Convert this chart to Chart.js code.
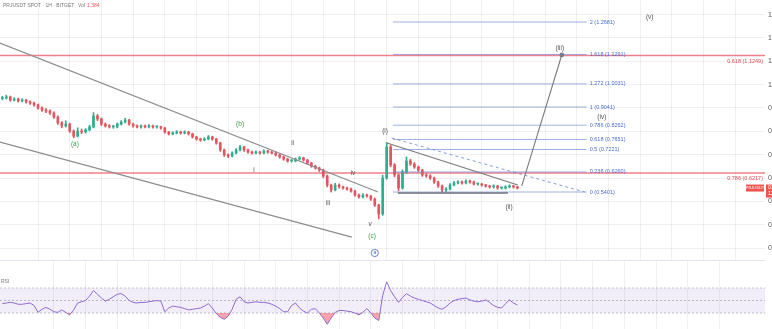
<!DOCTYPE html>
<html>
<head>
<meta charset="utf-8">
<script src="https://cdn.jsdelivr.net/npm/chart.js@4.4.1/dist/chart.umd.min.js"></script>
<style>
html, body { margin: 0; padding: 0; background: #fff; overflow: hidden; width: 772px; height: 329px; }
#wrap { position: relative; width: 800px; height: 329px; }
#main { position: absolute; left: 0; top: 0; }
#rsi { position: absolute; left: 0; top: 260px; }
</style>
</head>
<body>
<div id="wrap">
  <canvas id="main" width="800" height="260"></canvas>
  <canvas id="rsi" width="800" height="69"></canvas>
</div>
<script>
// PRJUSDT 1h candles
var opens = [0.940,0.943,0.947,0.934,0.938,0.930,0.934,0.926,0.921,0.913,
  0.900,0.891,0.887,0.878,0.861,0.836,0.823,0.831,0.801,0.780,
  0.801,0.797,0.806,0.819,0.866,0.853,0.831,0.823,0.819,0.819,
  0.831,0.840,0.848,0.831,0.823,0.819,0.823,0.819,0.823,0.819,
  0.819,0.814,0.797,0.789,0.793,0.797,0.793,0.797,0.789,0.776,
  0.767,0.763,0.767,0.776,0.767,0.750,0.720,0.699,0.694,0.707,
  0.720,0.733,0.720,0.711,0.707,0.711,0.707,0.716,0.711,0.707,
  0.699,0.690,0.681,0.673,0.673,0.681,0.686,0.677,0.664,0.651,
  0.643,0.634,0.609,0.570,0.549,0.570,0.562,0.557,0.553,0.544,
  0.527,0.519,0.527,0.523,0.510,0.484,0.446,0.600,0.733,0.656,
  0.613,0.557,0.626,0.673,0.660,0.647,0.634,0.613,0.609,0.600,
  0.583,0.566,0.549,0.553,0.570,0.579,0.583,0.579,0.587,0.583,
  0.574,0.574,0.570,0.566,0.562,0.566,0.557,0.557,0.562,0.566,
  0.562];
var closes = [0.943,0.947,0.934,0.938,0.930,0.934,0.926,0.921,0.913,0.900,
  0.891,0.887,0.878,0.861,0.836,0.823,0.831,0.801,0.780,0.801,
  0.797,0.806,0.819,0.866,0.853,0.831,0.823,0.819,0.819,0.831,
  0.840,0.848,0.831,0.823,0.819,0.823,0.819,0.823,0.819,0.819,
  0.814,0.797,0.789,0.793,0.797,0.793,0.797,0.789,0.776,0.767,
  0.763,0.767,0.776,0.767,0.750,0.720,0.699,0.694,0.707,0.720,
  0.733,0.720,0.711,0.707,0.711,0.707,0.716,0.711,0.707,0.699,
  0.690,0.681,0.673,0.673,0.681,0.686,0.677,0.664,0.651,0.643,
  0.634,0.609,0.570,0.549,0.570,0.562,0.557,0.553,0.544,0.527,
  0.519,0.527,0.523,0.510,0.484,0.446,0.600,0.733,0.656,0.613,
  0.557,0.626,0.673,0.660,0.647,0.634,0.613,0.609,0.600,0.583,
  0.566,0.549,0.553,0.570,0.579,0.583,0.579,0.587,0.583,0.574,
  0.574,0.570,0.566,0.562,0.566,0.557,0.557,0.562,0.566,0.562,
  0.557];
var highs = [0.950,0.955,0.951,0.944,0.942,0.939,0.937,0.931,0.925,0.917,
  0.905,0.897,0.892,0.883,0.866,0.842,0.845,0.835,0.806,0.815,
  0.810,0.812,0.826,0.880,0.872,0.857,0.836,0.829,0.825,0.836,
  0.846,0.856,0.851,0.835,0.828,0.828,0.827,0.829,0.827,0.824,
  0.822,0.817,0.800,0.798,0.803,0.801,0.802,0.800,0.792,0.779,
  0.771,0.773,0.782,0.779,0.770,0.754,0.724,0.703,0.712,0.726,
  0.740,0.736,0.724,0.715,0.716,0.714,0.721,0.719,0.715,0.711,
  0.703,0.694,0.685,0.679,0.686,0.692,0.689,0.680,0.667,0.655,
  0.647,0.638,0.613,0.574,0.577,0.575,0.566,0.561,0.557,0.548,
  0.531,0.533,0.531,0.526,0.514,0.488,0.612,0.752,0.740,0.662,
  0.618,0.635,0.690,0.680,0.666,0.651,0.638,0.619,0.614,0.604,
  0.587,0.570,0.559,0.576,0.586,0.589,0.587,0.592,0.591,0.587,
  0.579,0.577,0.573,0.569,0.571,0.569,0.562,0.567,0.571,0.569,
  0.565];
var lows = [0.935,0.938,0.929,0.930,0.925,0.926,0.921,0.915,0.908,0.895,
  0.885,0.880,0.872,0.855,0.830,0.815,0.818,0.795,0.772,0.776,
  0.790,0.792,0.802,0.815,0.846,0.825,0.818,0.814,0.813,0.815,
  0.827,0.836,0.826,0.818,0.815,0.814,0.815,0.815,0.814,0.813,
  0.809,0.792,0.784,0.785,0.789,0.788,0.789,0.784,0.771,0.762,
  0.757,0.759,0.764,0.762,0.745,0.714,0.692,0.687,0.690,0.703,
  0.716,0.714,0.706,0.702,0.703,0.702,0.703,0.706,0.703,0.694,
  0.685,0.676,0.668,0.668,0.669,0.677,0.672,0.659,0.646,0.638,
  0.628,0.602,0.562,0.540,0.545,0.557,0.552,0.548,0.539,0.522,
  0.514,0.515,0.518,0.504,0.478,0.425,0.440,0.595,0.648,0.605,
  0.545,0.552,0.620,0.654,0.641,0.628,0.607,0.603,0.594,0.577,
  0.560,0.541,0.541,0.549,0.566,0.575,0.574,0.575,0.578,0.570,
  0.569,0.565,0.561,0.557,0.557,0.552,0.552,0.553,0.558,0.557,
  0.553];
var rsiValues = [45,46,47,46,44,44,45,46,42,31,
  36,39,36,32,31,35,31,27,35,46,
  48,50,57,66,60,54,49,52,56,60,
  61,57,50,47,46,47,47,48,49,50,
  49,32,38,41,40,39,37,35,36,37,
  38,41,45,38,29,23,20,25,36,52,
  56,48,46,47,48,47,47,46,44,41,
  37,32,32,42,46,38,33,30,36,37,
  30,22,12,22,31,34,34,33,32,30,
  27,31,37,30,22,18,58,80,66,56,
  47,55,61,57,54,52,50,48,46,42,
  38,36,40,46,50,52,53,54,51,49,
  48,49,51,47,42,39,38,45,51,46,
  43];

// fib extension drawn on the chart
var fibRatios = [0, 0.236, 0.5, 0.618, 0.786, 1, 1.272, 1.618, 2];
var fibLow = 0.5401, fibHigh = 0.9041;
var fibStart = 93.6, fibEnd = 142.5;   // bar index range
// higher-timeframe fib levels (red)
var redRatios = ['0.618', '0.786'];
var redPrices = [1.1249, 0.6217];

// elliott wave labels: bar index, price
var waveNames = ['(a)', '(b)', 'i', 'ii', 'iii', 'iv', 'v', '(c)', '(i)', '(ii)', '(iii)', '(iv)', '(v)'];
var waveX = [13.3, 55.0, 58.5, 68.3, 77.2, 83.5, 87.8, 88.3, 91.6, 122.9, 135.7, 146.3, 158.4];
var waveY = [0.746, 0.831, 0.634, 0.750, 0.493, 0.621, 0.403, 0.352, 0.801, 0.476, 1.157, 0.861, 1.290];
var circleWave = { name: 'a', x: 89.0, y: 0.279 };

// trendlines [x1, p1, x2, p2]
var channelTop = [-5.6, 1.178, 89.8, 0.540];
var channelBottom = [-5.6, 0.754, 83.2, 0.347];
var triangleTop = [92.1, 0.750, 125.1, 0.570];
var triangleBase = [94.8, 0.536, 122.6, 0.536];
var dashedLine = [93.3, 0.771, 142.0, 0.540];
var projection = [126.1, 0.566, 136.2, 1.127];

var xMin = -5.6, xMax = 187.5;
var FONT = '"Liberation Sans", Arial, sans-serif';
var upColor = '#2fae8e', downColor = '#e3555f';

var xs = closes.map(function(c, i) { return i - 5; });
var candleColors = closes.map(function(c, i) { return c >= opens[i] ? upColor : downColor; });

function seg(a, color, width, dash) {
  return {
    type: 'line',
    data: [{x: a[0], y: a[1]}, {x: a[2], y: a[3]}],
    borderColor: color, borderWidth: width, borderDash: dash || [],
    pointRadius: 0, pointHoverRadius: 0, fill: false, order: 1
  };
}

var datasets = [
  {
    type: 'bar', order: 5, grouped: false, barThickness: 1,
    data: xs.map(function(x, i) { return {x: x, y: [lows[i], highs[i]]}; }),
    backgroundColor: candleColors
  },
  {
    type: 'bar', order: 4, grouped: false, barThickness: 2, minBarLength: 1,
    data: xs.map(function(x, i) { return {x: x, y: [opens[i], closes[i]]}; }),
    backgroundColor: candleColors
  }
];
fibRatios.forEach(function(r) {
  var p = fibLow + r * (fibHigh - fibLow);
  datasets.push(seg([fibStart, p, fibEnd, p], 'rgba(96,125,205,0.6)', 1));
});
datasets.push(seg(channelTop, '#8c8c8c', 1.2));
datasets.push(seg(channelBottom, '#8c8c8c', 1.2));
datasets.push(seg(triangleTop, '#7a7a7a', 1.2));
datasets.push(seg(triangleBase, '#6e6e6e', 1.6));
datasets.push(seg(dashedLine, 'rgba(96,125,205,0.75)', 1, [3, 3]));
var proj = seg(projection, '#7a7a7a', 1.1);
proj.pointRadius = [0, 1.8];
proj.pointBackgroundColor = '#7a7a7a';
datasets.push(proj);

// red horizontal levels go under the candles and trendlines
var redLevels = {
  id: 'redLevels',
  beforeDatasetsDraw: function(chart) {
    var ctx = chart.ctx, sy = chart.scales.y, ca = chart.chartArea;
    ctx.save();
    ctx.strokeStyle = 'rgba(236,96,110,0.8)';
    ctx.lineWidth = 1.6;
    redPrices.forEach(function(p) {
      var y = sy.getPixelForValue(p);
      ctx.beginPath();
      ctx.moveTo(ca.left, y);
      ctx.lineTo(ca.right, y);
      ctx.stroke();
    });
    ctx.restore();
  }
};

var overlay = {
  id: 'overlay',
  afterDatasetsDraw: function(chart) {
    var ctx = chart.ctx, sx = chart.scales.x, sy = chart.scales.y, ca = chart.chartArea;
    ctx.save();
    ctx.textBaseline = 'middle';

    // fib labels
    ctx.font = '5.5px ' + FONT;
    ctx.fillStyle = '#4a6cd0';
    ctx.textAlign = 'left';
    fibRatios.forEach(function(r) {
      var p = fibLow + r * (fibHigh - fibLow);
      ctx.fillText(r + ' (' + p.toFixed(4) + ')', sx.getPixelForValue(fibEnd) + 3, sy.getPixelForValue(p));
    });

    // red level labels
    ctx.fillStyle = '#dd4b57';
    ctx.textAlign = 'right';
    redPrices.forEach(function(p, i) {
      ctx.fillText(redRatios[i] + ' (' + p.toFixed(4) + ')', ca.right - 2, sy.getPixelForValue(p) + 6);
    });

    // wave labels
    ctx.font = '6.5px ' + FONT;
    ctx.textAlign = 'center';
    waveNames.forEach(function(n, i) {
      ctx.fillStyle = (n === '(a)' || n === '(b)' || n === '(c)') ? '#3d9a4a' : '#555';
      ctx.fillText(n, sx.getPixelForValue(waveX[i]), sy.getPixelForValue(waveY[i]));
    });
    var cx = sx.getPixelForValue(circleWave.x), cy = sy.getPixelForValue(circleWave.y);
    ctx.strokeStyle = '#3f63c8';
    ctx.lineWidth = 0.8;
    ctx.beginPath();
    ctx.arc(cx, cy, 3.6, 0, Math.PI * 2);
    ctx.stroke();
    ctx.fillStyle = '#3f63c8';
    ctx.font = '5px ' + FONT;
    ctx.fillText(circleWave.name, cx, cy);

    // last price tags
    var last = closes[closes.length - 1];
    var py = sy.getPixelForValue(last);
    ctx.fillStyle = '#ef5350';
    ctx.fillRect(ca.right - 19, py - 3.5, 18, 7);
    ctx.fillRect(ca.right + 1, py - 3.5, 34, 13);
    ctx.fillStyle = '#fff';
    ctx.font = '4px ' + FONT;
    ctx.fillText('PRJUSDT', ca.right - 10, py);
    ctx.textAlign = 'left';
    ctx.font = '5.5px ' + FONT;
    ctx.fillText(last.toFixed(4), ca.right + 3, py - 0.5);
    ctx.fillText('12:41', ca.right + 3, py + 5.5);

    // header
    ctx.font = '5px ' + FONT;
    ctx.fillStyle = '#777';
    ctx.fillText('PRJUSDT SPOT · 1H · BITGET', 3, 6);
    ctx.fillText('Vol', 78, 6);
    ctx.fillStyle = '#e3555f';
    ctx.fillText('1.384', 87, 6);
    ctx.restore();
  }
};

function xScale() {
  return {
    type: 'linear', min: xMin, max: xMax, offset: false,
    grid: { color: 'rgba(42,46,57,0.07)', drawTicks: false },
    border: { display: false },
    ticks: { display: false, stepSize: 8 },
    afterBuildTicks: function(s) { s.ticks = s.ticks.filter(function(t) { return t.value % 8 === 0; }); },
    afterFit: function(s) { s.height = 0; s.paddingLeft = 0; s.paddingRight = 0; }
  };
}

new Chart(document.getElementById('main'), {
  type: 'bar',
  data: { datasets: datasets },
  options: {
    responsive: false, animation: false, devicePixelRatio: 1,
    layout: { padding: 0, autoPadding: false },
    plugins: { legend: { display: false }, tooltip: { enabled: false } },
    scales: {
      x: xScale(),
      y: {
        position: 'right', min: 0.2489, max: 1.3624,
        grid: { color: 'rgba(42,46,57,0.07)', drawTicks: false },
        border: { display: false },
        ticks: {
          stepSize: 0.1, padding: 3, color: '#555', font: { size: 7, family: FONT },
          callback: function(v) { return v.toFixed(4); }
        },
        afterBuildTicks: function(s) {
          s.ticks = s.ticks.filter(function(t) { return Math.abs(t.value * 10 - Math.round(t.value * 10)) < 1e-6; });
        },
        afterFit: function(s) { s.width = 35; s.paddingTop = 0; s.paddingBottom = 0; }
      }
    }
  },
  plugins: [redLevels, overlay]
});

// RSI pane
var rsiOverlay = {
  id: 'rsiOverlay',
  afterDraw: function(chart) {
    var ctx = chart.ctx, ca = chart.chartArea;
    ctx.save();
    ctx.strokeStyle = '#e0e3eb';
    ctx.lineWidth = 1;
    ctx.beginPath();
    ctx.moveTo(0, 0.5);
    ctx.lineTo(ca.right, 0.5);
    ctx.stroke();
    ctx.fillStyle = '#777';
    ctx.font = '5px ' + FONT;
    ctx.textBaseline = 'middle';
    ctx.fillText('RSI', 1, 22);
    ctx.restore();
  }
};

function bandLine(v, fill) {
  return {
    type: 'line', data: [{x: xMin, y: v}, {x: xMax, y: v}],
    borderColor: 'rgba(120,123,134,0.45)', borderWidth: 1, borderDash: [2, 2],
    pointRadius: 0, pointHoverRadius: 0, fill: fill, backgroundColor: 'rgba(126,87,194,0.1)', order: 3
  };
}

new Chart(document.getElementById('rsi'), {
  type: 'line',
  data: {
    datasets: [
      {
        data: xs.map(function(x, i) { return {x: x, y: rsiValues[i]}; }),
        borderColor: '#8e6bd0', borderWidth: 1, pointRadius: 0, pointHoverRadius: 0, tension: 0, order: 1,
        fill: { target: { value: 30 }, above: 'rgba(0,0,0,0)', below: 'rgba(242,54,69,0.45)' }
      },
      bandLine(70, '+1'),
      bandLine(30, false),
      bandLine(50, false)
    ]
  },
  options: {
    responsive: false, animation: false, devicePixelRatio: 1,
    layout: { padding: 0, autoPadding: false },
    plugins: { legend: { display: false }, tooltip: { enabled: false } },
    scales: {
      x: xScale(),
      y: {
        position: 'right', min: 4.4, max: 114.8,
        grid: { display: false },
        border: { display: false },
        ticks: { padding: 3, color: '#555', font: { size: 7, family: FONT }, callback: function(v) { return v.toFixed(2); } },
        afterBuildTicks: function(s) { s.ticks = [{value: 30}, {value: 50}, {value: 70}, {value: 90}]; },
        afterFit: function(s) { s.width = 35; s.paddingTop = 0; s.paddingBottom = 0; }
      }
    }
  },
  plugins: [rsiOverlay]
});
</script>
</body>
</html>
